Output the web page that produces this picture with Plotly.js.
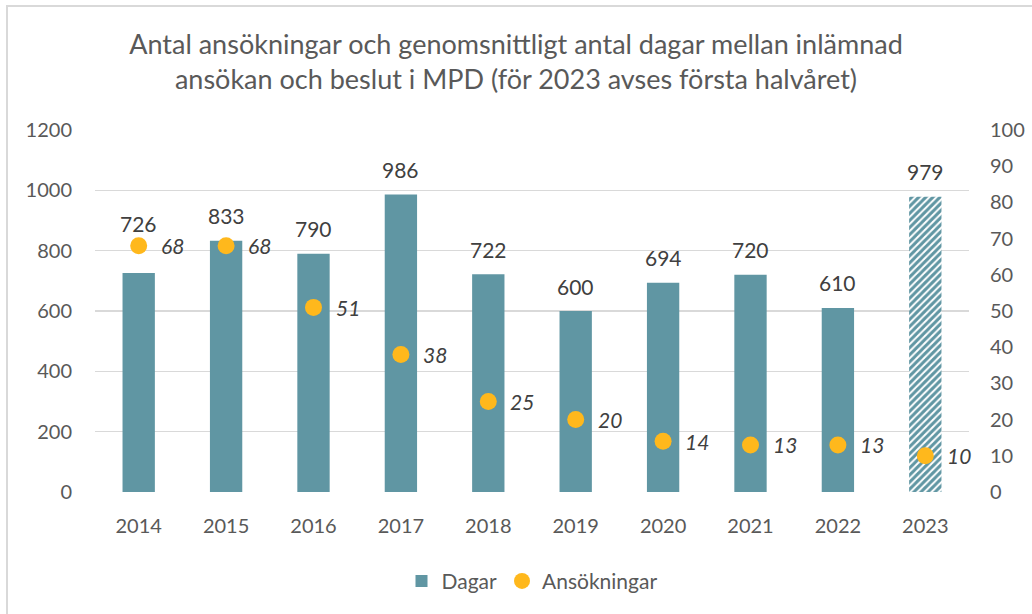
<!DOCTYPE html>
<html>
<head>
<meta charset="utf-8">
<script src="https://cdn.plot.ly/plotly-3.0.1.min.js"></script>
<style>
html,body{margin:0;padding:0;background:#fff;}
#chart{width:1032px;height:614px;}
#frame{position:absolute;left:6px;top:5px;width:1100px;height:700px;border-left:2px solid #d9d9d9;border-top:2px solid #d9d9d9;pointer-events:none;}
</style>
</head>
<body>
<div id="chart"></div>
<div id="frame"></div>
<script>
const years = [2014, 2015, 2016, 2017, 2018, 2019, 2020, 2021, 2022, 2023];
const dagar = [726, 833, 790, 986, 722, 600, 694, 720, 610, 979];
const ansokningar = [68, 68, 51, 38, 25, 20, 14, 13, 13, 10];
const leftTicks = [0, 200, 400, 600, 800, 1000, 1200];
const rightTicks = [0, 10, 20, 30, 40, 50, 60, 70, 80, 90, 100];

const FONT = 'Lato, "Open Sans", sans-serif';
const barColor = '#6096A3';
const dotColor = '#FFB81C';

const barTrace = {
  type: 'bar',
  name: 'Dagar',
  x: years,
  y: dagar,
  width: 0.37,
  marker: {
    color: barColor,
    pattern: {
      shape: years.map((y, i) => i === years.length - 1 ? '/' : ''),
      fillmode: 'replace',
      bgcolor: '#ffffff',
      fgcolor: barColor,
      size: 5,
      solidity: 0.6
    },
    line: {width: 0}
  },
  hoverinfo: 'skip'
};

const dotTrace = {
  type: 'scatter',
  mode: 'markers',
  name: 'Ansökningar',
  x: years,
  y: ansokningar,
  yaxis: 'y2',
  marker: {color: dotColor, size: 17},
  hoverinfo: 'skip',
  cliponaxis: false
};

const barLabels = years.map((yr, i) => ({
  x: yr,
  y: dagar[i],
  xref: 'x',
  yref: 'y',
  text: String(dagar[i]),
  showarrow: false,
  yanchor: 'middle',
  yshift: i === 0 ? 49 : 25,
  font: {family: FONT, size: 21, color: '#404040'}
}));

const dotLabels = years.map((yr, i) => ({
  x: yr,
  y: ansokningar[i],
  xref: 'x',
  yref: 'y2',
  text: '<i>' + ansokningar[i] + '</i>',
  showarrow: false,
  xanchor: 'left',
  yanchor: 'middle',
  xshift: 20,
  font: {family: FONT, size: 21, color: '#404040'}
}));

const layout = {
  width: 1032,
  height: 614,
  paper_bgcolor: '#ffffff',
  plot_bgcolor: '#ffffff',
  margin: {l: 95, r: 63, t: 130, b: 117},
  font: {family: FONT, color: '#595959'},
  title: {
    text: 'Antal ansökningar och genomsnittligt antal dagar mellan inlämnad<br>ansökan och beslut i MPD (för 2023 avses första halvåret)',
    font: {family: FONT, size: 27, color: '#595959'},
    x: 0.5,
    xanchor: 'center',
    y: 0.912,
    yanchor: 'top'
  },
  xaxis: {
    type: 'linear',
    range: [2013.5, 2023.5],
    tickvals: years,
    ticktext: years.map(String),
    showgrid: false,
    zeroline: false,
    showline: false,
    ticks: '',
    tickfont: {family: FONT, size: 20, color: '#595959'},
    ticklabelstandoff: 20
  },
  yaxis: {
    range: [0, 1200],
    tickvals: leftTicks,
    ticktext: leftTicks.map(String),
    showgrid: true,
    gridcolor: '#d9d9d9',
    gridwidth: 1.5,
    zeroline: false,
    showline: false,
    ticks: '',
    tickfont: {family: FONT, size: 20, color: '#595959'},
    ticklabelstandoff: 22
  },
  yaxis2: {
    range: [0, 100],
    overlaying: 'y',
    side: 'right',
    tickvals: rightTicks,
    ticktext: rightTicks.map(String),
    showgrid: false,
    zeroline: false,
    showline: false,
    ticks: '',
    tickfont: {family: FONT, size: 20, color: '#595959'},
    ticklabelstandoff: 20
  },
  showlegend: true,
  legend: {
    orientation: 'h',
    x: 0.5,
    xanchor: 'center',
    y: -0.19,
    yanchor: 'top',
    font: {family: FONT, size: 21, color: '#595959'},
    itemwidth: 30,
    traceorder: 'normal'
  },
  annotations: barLabels.concat(dotLabels)
};

Plotly.newPlot('chart', [barTrace, dotTrace], layout, {displayModeBar: false, staticPlot: true});
</script>
</body>
</html>
